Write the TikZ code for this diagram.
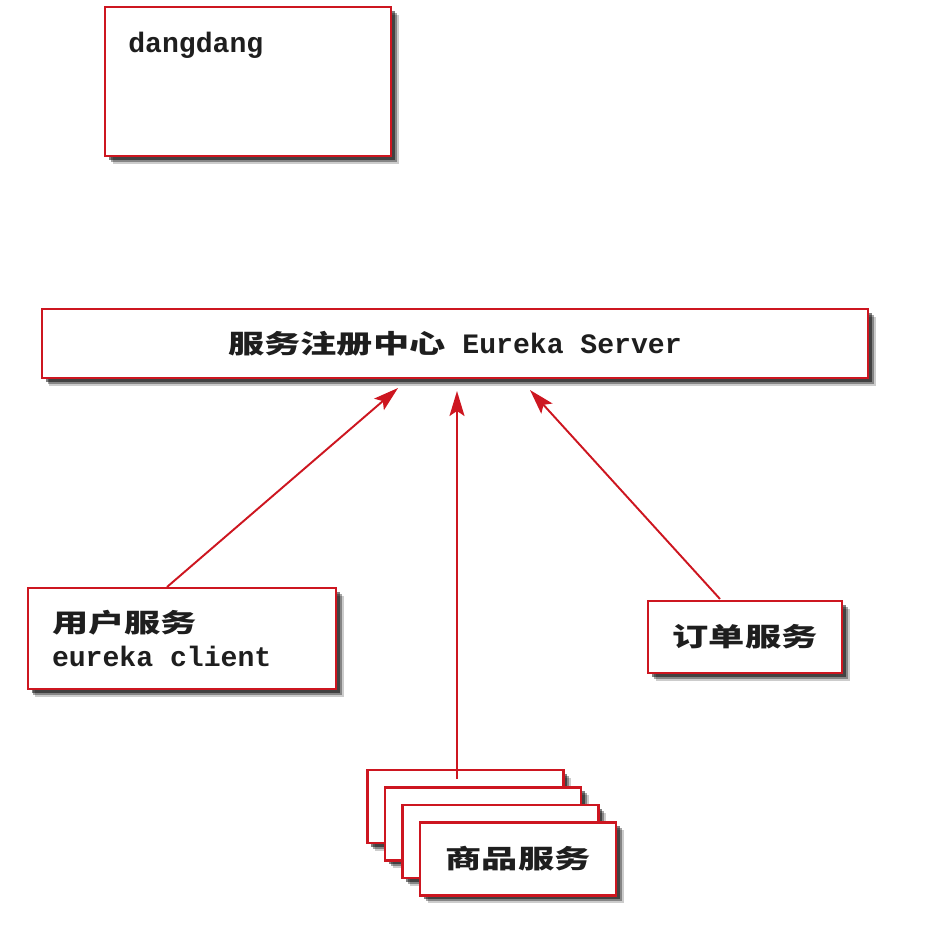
\documentclass[tikz,border=0pt]{standalone}
\usepackage{fontspec}
\setmainfont{Liberation Mono}
\newfontfamily\cjk{Noto Sans CJK SC}[Scale=0.92, FakeStretch=1.4]
\usetikzlibrary{arrows.meta, shadows}
\definecolor{boxred}{RGB}{205,22,32}
\definecolor{txt}{RGB}{30,30,30}

\begin{document}
\begin{tikzpicture}[main/.style = {draw=boxred, line width=1.2pt, fill=white, rectangle, inner sep=0pt,
      drop shadow={shadow xshift=0.15cm, shadow yshift=-0.15cm, fill=black, opacity=0.2},
      drop shadow={shadow xshift=0.11cm, shadow yshift=-0.11cm, fill=black, opacity=0.35},
      drop shadow={shadow xshift=0.07cm, shadow yshift=-0.07cm, fill=black, opacity=0.5}},
    lbl/.style = {text=txt, font=\fontsize{16pt}{19.2pt}\selectfont\bfseries},
    arr/.style = {color=boxred, line width=1.1pt, -{Stealth[length=5mm, width=3mm, inset=1mm]}}]
      \useasboundingbox (0,0) rectangle (18.52,-18.72);

      \node[main, minimum width=5.72cm, minimum height=2.98cm] (dd) at (4.96,-1.63) {};
      \node[lbl, anchor=west, inner sep=0pt] (ddtext) at (2.56,-0.90) {dangdang};

      \node[main, lbl, minimum width=16.52cm, minimum height=1.38cm] (server) at (9.10,-6.87)
         {{\cjk 服务注册中心} Eureka Server};

      \node[main, lbl, minimum width=6.16cm, minimum height=2.02cm, text width=5.2cm, align=flush left] (user) at (3.64,-12.77)
         {{\cjk 用户服务}\\eureka client};

      \node[main, lbl, minimum width=3.88cm, minimum height=1.44cm] (order) at (14.90,-12.74) {\cjk 订单服务};

      \foreach \i in {0,1,2}
         \node[main, minimum width=3.92cm, minimum height=1.46cm] (p\i) at (9.31+0.35*\i,-16.13-0.35*\i) {};
      \node[main, lbl, minimum width=3.92cm, minimum height=1.46cm] (p3) at (10.36,-17.18) {\cjk 商品服务};

      \coordinate (s1) at (3.34,-11.74);
      \coordinate (t1) at (7.96,-7.76);
      \coordinate (s2) at (9.14,-15.58);
      \coordinate (t2) at (9.14,-7.82);
      \coordinate (s3) at (14.40,-11.98);
      \coordinate (t3) at (10.60,-7.80);

      \draw[arr] (s1) -- (t1);
      \draw[arr] (s2) -- (t2);
      \draw[arr] (s3) -- (t3);

    \end{tikzpicture}
\end{document}
